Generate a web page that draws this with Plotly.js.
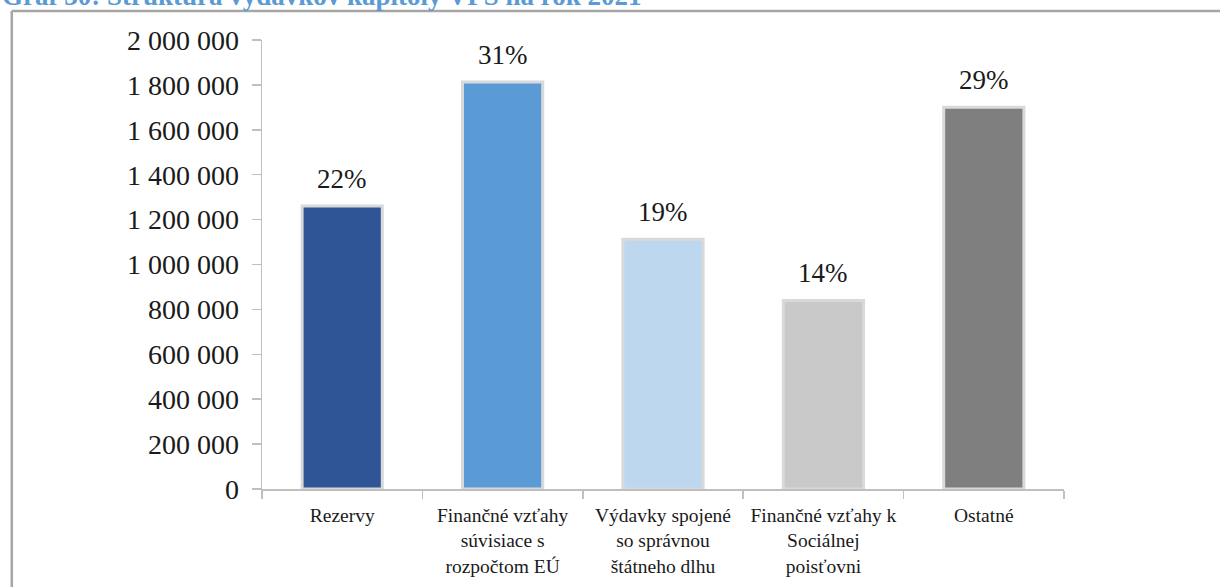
<!DOCTYPE html>
<html>
<head>
<meta charset="utf-8">
<script src="https://cdn.plot.ly/plotly-3.0.1.min.js"></script>
<style>
html,body{margin:0;padding:0;background:#fff;}
#chart{width:1220px;height:587px;}
</style>
</head>
<body>
<div id="chart"></div>
<script>
const categories = [
  "Rezervy",
  "Finančné vzťahy<br>súvisiace s<br>rozpočtom EÚ",
  "Výdavky spojené<br>so správnou<br>štátneho dlhu",
  "Finančné vzťahy k<br>Sociálnej<br>poisťovni",
  "Ostatné"
];
const values = [1261000, 1813000, 1112000, 840000, 1700000];
const shares = ["22%", "31%", "19%", "14%", "29%"];
const barColors = ["#2f5597", "#5b9bd5", "#bdd7ee", "#c9c9c9", "#7f7f7f"];
const titleText = "Graf 30: Štruktúra výdavkov kapitoly VPS na rok 2021";

const serif = "Liberation Serif, Times New Roman, serif";

const trace = {
  type: "bar",
  x: categories,
  y: values,
  width: 0.5,
  marker: {color: barColors, line: {color: "#d9d9d9", width: 3}},
  hoverinfo: "none"
};

const annotations = categories.map((c, i) => ({
  x: c, y: values[i], xref: "x", yref: "y",
  text: shares[i], showarrow: false,
  yanchor: "middle", yshift: 27,
  font: {family: serif, size: 27, color: "#1a1a1a"}
}));

annotations.push({
  xref: "paper", yref: "paper",
  x: -0.327, y: 1.099, xanchor: "left", yanchor: "middle",
  text: "<b>" + titleText + "</b>", showarrow: false,
  font: {family: serif, size: 27, color: "#5b9bd5"}
});

const layout = {
  width: 1220, height: 587,
  margin: {l: 262, r: 156, t: 40, b: 98, pad: 0},
  paper_bgcolor: "#ffffff",
  plot_bgcolor: "#ffffff",
  showlegend: false,
  separators: ", ",
  bargap: 0.5,
  xaxis: {
    type: "category",
    showline: true, linecolor: "#bfbfbf", linewidth: 1.5,
    ticks: "outside", ticklen: 8, tickcolor: "#bfbfbf", tickwidth: 1.5,
    tickson: "boundaries",
    ticklabelstandoff: 8,
    showgrid: false, zeroline: false,
    tickfont: {family: serif, size: 19.5, color: "#1a1a1a"},
    fixedrange: true
  },
  yaxis: {
    range: [0, 2000000],
    tickvals: [0, 200000, 400000, 600000, 800000, 1000000, 1200000, 1400000, 1600000, 1800000, 2000000],
    tickformat: ",d",
    showline: true, linecolor: "#bfbfbf", linewidth: 1.5,
    ticks: "outside", ticklen: 9, tickcolor: "#bfbfbf", tickwidth: 1.5,
    ticklabelstandoff: 7,
    showgrid: false, zeroline: false,
    tickfont: {family: serif, size: 28, color: "#1a1a1a"},
    fixedrange: true
  },
  annotations: annotations,
  shapes: [
    {type: "line", xref: "paper", yref: "paper", x0: -0.312, x1: 1.3, y0: 1.0646, y1: 1.0646,
     line: {color: "#a6a6a6", width: 2.5}},
    {type: "line", xref: "paper", yref: "paper", x0: -0.312, x1: -0.312, y0: 1.0646, y1: -0.3,
     line: {color: "#a6a6a6", width: 2.5}}
  ]
};

Plotly.newPlot("chart", [trace], layout, {displayModeBar: false, staticPlot: true});
</script>
</body>
</html>
